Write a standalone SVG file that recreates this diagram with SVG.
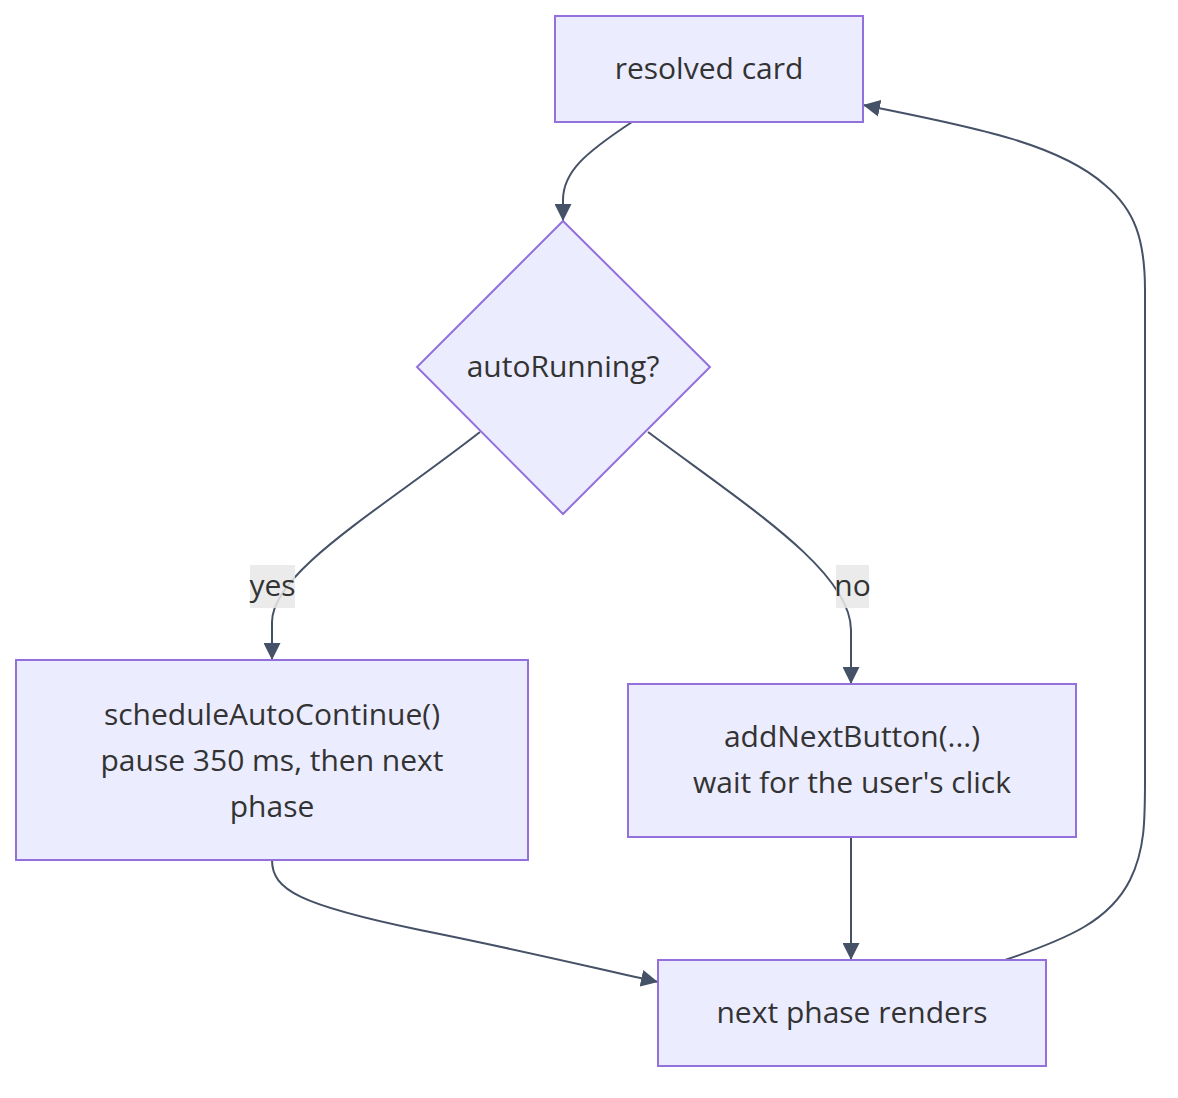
<svg xmlns="http://www.w3.org/2000/svg" width="1178" height="1098" viewBox="0 0 1178 1098">
<style>
.node rect, .node polygon { fill: #ECECFF; stroke: #9370DB; stroke-width: 2; }
.lbl { font-family: "Open Sans", "Liberation Sans", sans-serif; font-size: 30px; fill: #333333; text-anchor: middle; dominant-baseline: central; }
.edge { fill: none; stroke: #455166; stroke-width: 2; }
.elbg { fill: #e8e8e8; fill-opacity: 0.85; }
</style>
<defs>
<marker id="ah" viewBox="0 0 12 12" refX="12" refY="6" markerWidth="17" markerHeight="17" markerUnits="userSpaceOnUse" orient="auto">
<path d="M0,0 L12,6 L0,12 z" fill="#455166"/>
</marker>
</defs>
<rect width="1178" height="1098" fill="#ffffff"/>
<g id="edges">
<path class="edge" d="M632,122 C585,153 563,172 563,200 L563,221" marker-end="url(#ah)"/>
<path class="edge" d="M480,432 C380,510 272,572 272,622 L272,660" marker-end="url(#ah)"/>
<path class="edge" d="M648,432 C750,508 851,572 851,630 L851,684" marker-end="url(#ah)"/>
<path class="edge" d="M272,860 C272,890 300,905 420,930 C520,950 590,967 658,982" marker-end="url(#ah)"/>
<path class="edge" d="M851,837 L851,960" marker-end="url(#ah)"/>
<path class="edge" d="M1005,960 C1070,938 1110,920 1130,880 C1145,850 1145,820 1145,780 L1145,290 C1145,240 1135,210 1105,185 C1060,145 980,128 863,105" marker-end="url(#ah)"/>
</g>
<g id="edge-label-yes">
<rect class="elbg" x="250" y="565" width="45" height="43"/>
<text class="lbl" x="272.5" y="584.5">yes</text>
</g>
<g id="edge-label-no">
<rect class="elbg" x="836" y="565" width="33" height="43"/>
<text class="lbl" x="852.5" y="584.5">no</text>
</g>
<g id="node-resolved" class="node">
<rect x="555" y="16" width="308" height="106"/>
<text class="lbl" x="709" y="67">resolved card</text>
</g>
<g id="node-auto" class="node">
<polygon points="563,221 710,367 563,514 417,367"/>
<text class="lbl" x="563" y="365">autoRunning?</text>
</g>
<g id="node-schedule" class="node">
<rect x="16" y="660" width="512" height="200"/>
<text class="lbl" x="272" y="713">scheduleAutoContinue()</text>
<text class="lbl" x="272" y="759">pause 350 ms, then next</text>
<text class="lbl" x="272" y="805">phase</text>
</g>
<g id="node-addnext" class="node">
<rect x="628" y="684" width="448" height="153"/>
<text class="lbl" x="852" y="735">addNextButton(...)</text>
<text class="lbl" x="852" y="781">wait for the user's click</text>
</g>
<g id="node-nextphase" class="node">
<rect x="658" y="960" width="388" height="106"/>
<text class="lbl" x="852" y="1011">next phase renders</text>
</g>
</svg>
